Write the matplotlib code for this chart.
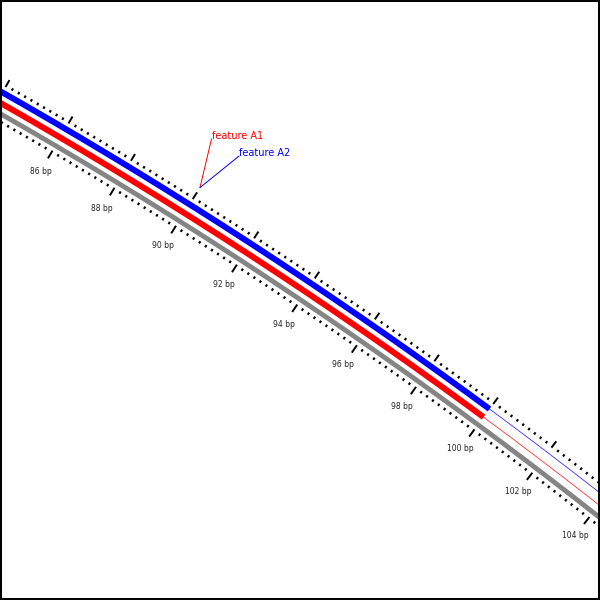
"""Zoomed-in view of a circular genome diagram (features A1/A2 around 86-104 bp)."""

import matplotlib

matplotlib.use("Agg")  # Headless backend
import matplotlib.pyplot as plt  # noqa: E402
import numpy as np  # noqa: E402

# ---- data -----------------------------------------------------------------
label_bp = [86, 88, 90, 92, 94, 96, 98, 100, 102, 104]
tick_labels = [f"{bp} bp" for bp in label_bp]
view_bp = (83, 107)  # range drawn (clipped by the frame)

feature_names = ["feature A1", "feature A2"]
feature_colors = ["red", "blue"]
feature_start = [80, 80]
feature_end = [100, 100]
feature_tail_end = [110, 110]  # thin continuation after the thick part
feature_label_bp = [89.56, 90.44]
feature_anchor_bp = 90

# ---- layout (pixels of a 600x600 canvas, y pointing down) -----------------
CX, CY = -2414.5, 4344.3       # circle centre, far off-canvas
BP_MID, THETA_MID = 95.0, 0.5986
RAD_PER_BP = 0.007428
R0 = 4860.0
R_GREY = R0 + 11.3
R_FEAT = {"red": R0 + 20.7, "blue": R0 + 30.8}
R_INNER_SCALE = R0 + 5.5
R_OUTER_SCALE = R0 + 37.0
R_LABEL = R0 - 18.3
R_LEADER_IN = R0 + 50.6
R_LEADER_OUT = R0 + 98.0


def polar(bp, r):
    """Map a bp position and radius to canvas coordinates (clockwise)."""
    theta = THETA_MID + RAD_PER_BP * (np.asarray(bp, dtype=float) - BP_MID)
    return CX + r * np.sin(theta), CY - r * np.cos(theta)


def arc(ax, bp0, bp1, r, **kw):
    s = np.linspace(bp0, bp1, 200)
    x, y = polar(s, r)
    ax.plot(x, y, **kw)


def ticks(ax, positions, r_from, r_to, lw):
    for bp in positions:
        x, y = polar([bp, bp], np.array([r_from, r_to]))
        ax.plot(x, y, color="black", linewidth=lw, solid_capstyle="butt")


fig = plt.figure(figsize=(6, 6), dpi=100)
ax = fig.add_axes([0, 0, 1, 1])
ax.set_xlim(0, 600)
ax.set_ylim(600, 0)
ax.set_xticks([])
ax.set_yticks([])
for sp in ax.spines.values():
    sp.set_linewidth(2.9)
    sp.set_color("black")

# grey track
arc(ax, view_bp[0], view_bp[1], R_GREY, color="#858585", linewidth=3.5,
    solid_capstyle="butt")

# features: thick body then thin tail
for name, color, start, end, tail in zip(feature_names, feature_colors,
                                         feature_start, feature_end,
                                         feature_tail_end):
    r = R_FEAT[color]
    arc(ax, start, end, r, color=color, linewidth=4.3, solid_capstyle="butt")
    arc(ax, end, tail, r, color=color, linewidth=0.6, alpha=0.8)

# scales
major = np.arange(view_bp[0] + 1, view_bp[1], 2)
minor = [b for b in np.round(np.arange(view_bp[0], view_bp[1], 0.2), 1)
         if abs(b - round(b)) > 1e-6 or int(round(b)) % 2 == 1]
ticks(ax, major, R_OUTER_SCALE, R_OUTER_SCALE + 8, 1.4)
ticks(ax, minor, R_OUTER_SCALE, R_OUTER_SCALE + 2.6, 1.5)
ticks(ax, major, R_INNER_SCALE, R_INNER_SCALE - 9, 1.4)
ticks(ax, minor, R_INNER_SCALE, R_INNER_SCALE - 2.6, 1.5)

for bp, text in zip(label_bp, tick_labels):
    x, y = polar(bp, R_LABEL)
    ax.text(x, y, text, ha="center", va="center", fontsize=5.5,
            color="#222222", family="DejaVu Sans")

# feature labels with leader lines
x0, y0 = polar(feature_anchor_bp, R_LEADER_IN)
for name, color, lbp in zip(feature_names, feature_colors, feature_label_bp):
    x1, y1 = polar(lbp, R_LEADER_OUT)
    ax.plot([x0, x1], [y0, y1], color=color, linewidth=0.7)
    ax.text(x1 + 0.5, y1, name, ha="left", va="baseline", fontsize=7,
            color=color, family="DejaVu Sans")

fig.savefig("out.png", dpi=100)
plt.close(fig)
